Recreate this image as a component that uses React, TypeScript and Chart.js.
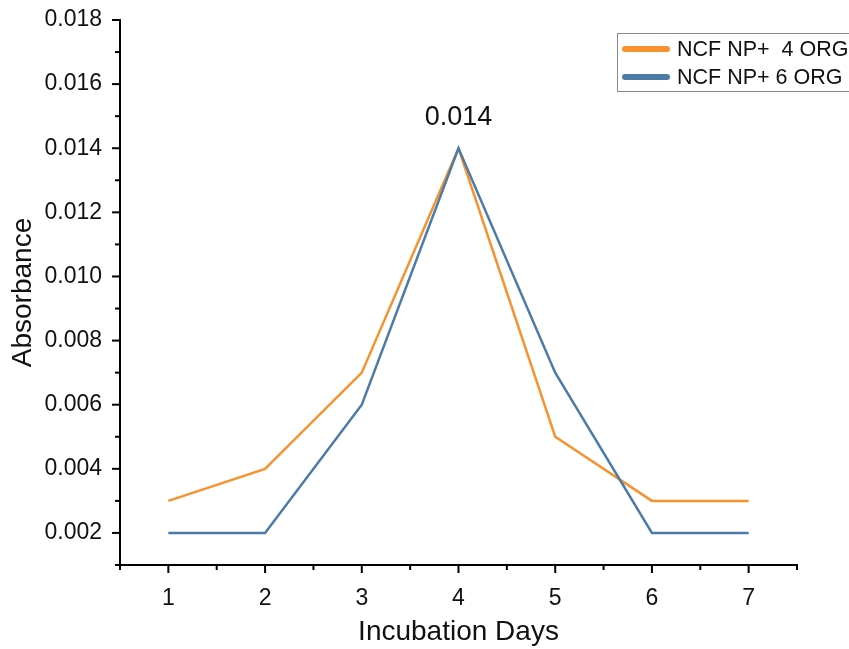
import React, { useEffect, useRef } from "react";
import { Chart, registerables } from "chart.js";

Chart.register(...registerables);

const days = [1, 2, 3, 4, 5, 6, 7];
const org4 = [0.003, 0.004, 0.007, 0.014, 0.005, 0.003, 0.003];
const org6 = [0.002, 0.002, 0.006, 0.014, 0.007, 0.002, 0.002];
const seriesNames = ["NCF NP+  4 ORG", "NCF NP+ 6 ORG"];
const seriesColors = ["#F7922F", "#4D7BA8"];
const peakLabel = "0.014";
const peakDay = 4;
const peakValue = 0.014;
const xTitle = "Incubation Days";
const yTitle = "Absorbance";

const FONT = "'Liberation Sans', Arial, sans-serif";

const tickPlugin = {
  id: "customTicks",
  afterDraw(chart: any) {
    const ctx = chart.ctx;
    const xs = chart.scales.x;
    const ys = chart.scales.y;
    const area = chart.chartArea;
    ctx.save();
    ctx.strokeStyle = "#000";
    ctx.lineWidth = 2;
    xs.ticks.forEach((t: any) => {
      const v = t.value;
      const px = xs.getPixelForValue(v);
      const major = Math.abs(v - Math.round(v)) < 1e-6;
      const len = major ? 8 : 5;
      ctx.beginPath();
      ctx.moveTo(px, area.bottom);
      ctx.lineTo(px, area.bottom + len);
      ctx.stroke();
    });
    ys.ticks.forEach((t: any) => {
      const v = t.value;
      const py = ys.getPixelForValue(v);
      const major = Math.round(v * 1000) % 2 === 0;
      const len = major ? 8 : 5;
      ctx.beginPath();
      ctx.moveTo(area.left, py);
      ctx.lineTo(area.left - len, py);
      ctx.stroke();
    });
    ctx.fillStyle = "#111";
    ctx.font = `27px ${FONT}`;
    ctx.textAlign = "center";
    ctx.textBaseline = "middle";
    ctx.fillText(peakLabel, xs.getPixelForValue(peakDay), ys.getPixelForValue(peakValue) - 31);

    const lx = 617;
    const ly = 33;
    ctx.strokeStyle = "#8a8a8a";
    ctx.lineWidth = 1;
    ctx.strokeRect(lx + 0.5, ly + 0.5, 260, 58);
    ctx.font = `21.5px ${FONT}`;
    ctx.textAlign = "left";
    ctx.textBaseline = "middle";
    seriesNames.forEach((name, i) => {
      const yy = ly + 16 + i * 28;
      ctx.strokeStyle = seriesColors[i];
      ctx.lineWidth = 6;
      ctx.lineCap = "round";
      ctx.beginPath();
      ctx.moveTo(lx + 8, yy);
      ctx.lineTo(lx + 50, yy);
      ctx.stroke();
      ctx.fillStyle = "#111";
      ctx.fillText(name, lx + 60, yy + 1);
    });
    ctx.restore();
  },
};

export default function App() {
  const ref = useRef<HTMLCanvasElement>(null);
  useEffect(() => {
    document.body.style.margin = "0";
    const chart = new Chart(ref.current!, {
      type: "line",
      data: {
        datasets: [
          {
            label: seriesNames[0],
            data: days.map((d, i) => ({ x: d, y: org4[i] })),
            borderColor: seriesColors[0],
            borderWidth: 2.5,
            pointRadius: 0,
            tension: 0,
            order: 2,
          },
          {
            label: seriesNames[1],
            data: days.map((d, i) => ({ x: d, y: org6[i] })),
            borderColor: seriesColors[1],
            borderWidth: 2.5,
            pointRadius: 0,
            tension: 0,
            order: 1,
          },
        ],
      },
      options: {
        animation: false,
        responsive: false,
        layout: { padding: { top: 20, right: 52, left: 0, bottom: 0 } },
        plugins: { legend: { display: false }, tooltip: { enabled: false } },
        scales: {
          x: {
            type: "linear",
            min: 0.5,
            max: 7.5,
            grid: { display: false },
            border: { display: true, color: "#000", width: 2 },
            ticks: {
              stepSize: 0.5,
              autoSkip: false,
              maxRotation: 0,
              padding: 12,
              color: "#111",
              font: { family: FONT, size: 23 },
              callback: (v: any) => (Math.abs(v - Math.round(v)) < 1e-6 ? String(Math.round(v)) : ""),
            },
            title: {
              display: true,
              text: xTitle,
              color: "#111",
              font: { family: FONT, size: 28 },
              padding: { top: 9, bottom: 0 },
            },
            afterFit: (s: any) => {
              s.height = 84;
              s.paddingLeft = 0;
              s.paddingRight = 0;
            },
          },
          y: {
            type: "linear",
            min: 0.001,
            max: 0.018,
            grid: { display: false },
            border: { display: true, color: "#000", width: 2 },
            ticks: {
              stepSize: 0.001,
              autoSkip: false,
              padding: 10,
              color: "#111",
              font: { family: FONT, size: 23 },
              callback: (v: any) => (Math.round(v * 1000) % 2 === 0 ? Number(v).toFixed(3) : ""),
            },
            title: {
              display: true,
              text: yTitle,
              color: "#111",
              font: { family: FONT, size: 28 },
              padding: { top: 6, bottom: 4 },
            },
            afterFit: (s: any) => {
              s.width = 120;
              s.paddingTop = 0;
              s.paddingBottom = 0;
            },
          },
        },
      },
      plugins: [tickPlugin],
    });
    return () => chart.destroy();
  }, []);
  return (
    <div style={{ position: "fixed", left: 0, top: 0, width: 849, height: 649, background: "#fff" }}>
      <canvas ref={ref} width={849} height={649} style={{ width: 849, height: 649 }} />
    </div>
  );
}
